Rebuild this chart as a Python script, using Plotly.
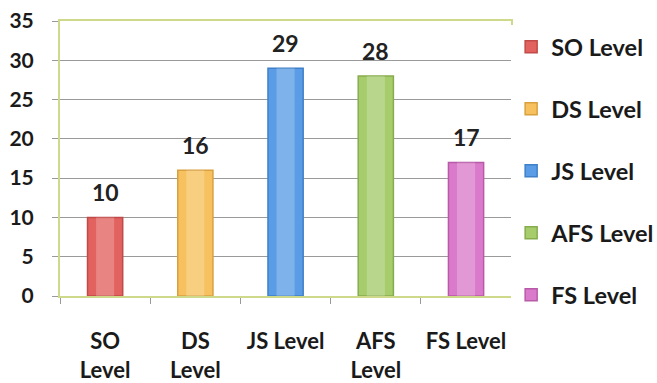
import plotly.graph_objects as go

categories = ["SO Level", "DS Level", "JS Level", "AFS Level", "FS Level"]
tick_labels = ["SO<br>Level", "DS<br>Level", "JS Level", "AFS<br>Level", "FS Level"]
values = [10, 16, 29, 28, 17]
colors = ["#e2625f", "#f6c15e", "#5a9de6", "#a6cc6c", "#d97bca"]
edge_colors = ["#c04a48", "#d9a040", "#3f80c8", "#86ac4e", "#b95aa8"]

FONT = "Lato"
fig = go.Figure()
for i, (c, v) in enumerate(zip(categories, values)):
    fig.add_trace(go.Bar(
        x=[c], y=[v], name=c,
        marker=dict(color=colors[i], line=dict(color=edge_colors[i], width=1.5)),
        legendgroup=c,
    ))
# soft highlight to mimic the cylindrical shading
fig.add_trace(go.Bar(
    x=categories, y=values, width=0.2, showlegend=False, hoverinfo="skip",
    marker=dict(color="rgba(255,255,255,0.22)", line=dict(width=0)),
))

for c, v in zip(categories, values):
    fig.add_annotation(x=c, y=v, text=str(v), showarrow=False, yshift=25,
                       font=dict(family=FONT, size=23, color="#222"))

fig.update_layout(
    width=657, height=383,
    margin=dict(l=60, r=145, t=21, b=87),
    paper_bgcolor="white", plot_bgcolor="white",
    barmode="overlay", bargap=0.61,
    font=dict(family=FONT, size=20, color="#1a1a1a", weight="bold"),
    legend=dict(xref="container", yref="container", x=0.778, y=0.935,
                xanchor="left", yanchor="top",
                tracegroupgap=28.5, font=dict(size=23.5, family=FONT, weight="bold"),
                itemwidth=30, maxheight=370),
    showlegend=True,
)
fig.update_xaxes(
    categoryorder="array", categoryarray=categories,
    tickvals=categories, ticktext=tick_labels, tickangle=0,
    tickson="boundaries", ticks="outside", ticklen=6, tickcolor="#999",
    showline=True, linecolor="#cfd98a", linewidth=2, mirror=True,
    ticklabelstandoff=25, automargin=False,
    tickfont=dict(family=FONT, size=22, weight="bold"),
)
fig.update_yaxes(
    range=[0, 35], dtick=5, ticks="outside", ticklen=6, tickcolor="#999",
    showgrid=True, gridcolor="#9a9a9a", gridwidth=1,
    showline=True, linecolor="#cfd98a", linewidth=2, mirror=True,
    zeroline=False, ticklabelstandoff=14, automargin=False,
    tickfont=dict(family=FONT, size=21, weight="bold"),
)
fig.write_html("out.html")
